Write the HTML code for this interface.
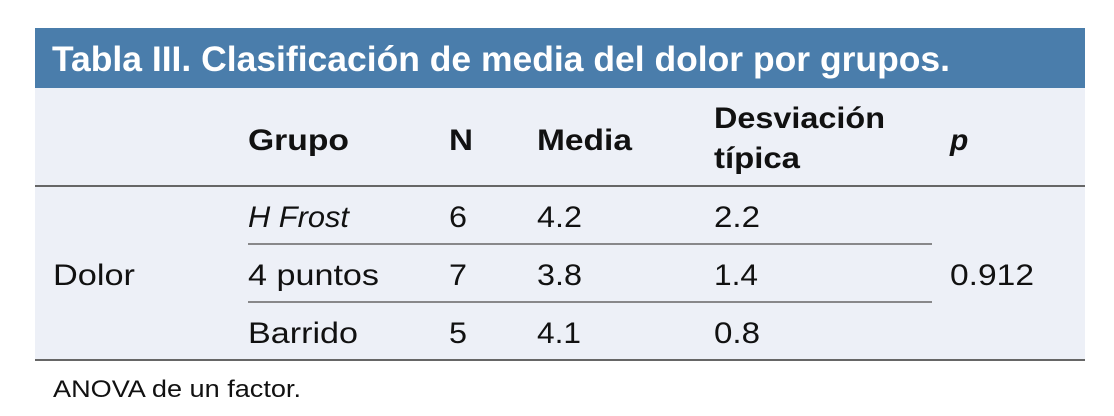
<!DOCTYPE html>
<html><head><meta charset="utf-8"><style>
html,body{margin:0;padding:0;background:#fff;width:1114px;height:416px;overflow:hidden}
svg{display:block}
text{font-family:"Liberation Sans",sans-serif;fill:#111}
</style></head><body>
<svg width="1114" height="416" viewBox="0 0 1114 416">
<rect x="35" y="28" width="1050" height="60" fill="#4a7dab"/>
<rect x="35" y="88" width="1050" height="272" fill="#edf0f7"/>
<text x="52" y="71" font-size="35" font-weight="bold" style="fill:#fff" textLength="898" lengthAdjust="spacingAndGlyphs">Tabla III. Clasificación de media del dolor por grupos.</text>
<g font-size="30" font-weight="bold">
<text x="248" y="150" textLength="101" lengthAdjust="spacingAndGlyphs">Grupo</text>
<text x="449" y="150" textLength="24" lengthAdjust="spacingAndGlyphs">N</text>
<text x="537" y="150" textLength="95" lengthAdjust="spacingAndGlyphs">Media</text>
<text x="714" y="128" textLength="171" lengthAdjust="spacingAndGlyphs">Desviación</text>
<text x="714" y="168" textLength="86" lengthAdjust="spacingAndGlyphs">típica</text>
<text x="950" y="150" font-style="italic">p</text>
</g>
<line x1="35" y1="186" x2="1085" y2="186" stroke="#666" stroke-width="2"/>
<line x1="248" y1="244" x2="932" y2="244" stroke="#666" stroke-width="1.5"/>
<line x1="248" y1="302" x2="932" y2="302" stroke="#666" stroke-width="1.5"/>
<line x1="35" y1="360" x2="1085" y2="360" stroke="#666" stroke-width="2"/>
<g font-size="30">
<text x="248" y="227" font-style="italic" textLength="101" lengthAdjust="spacingAndGlyphs">H Frost</text>
<text x="449" y="227" textLength="18" lengthAdjust="spacingAndGlyphs">6</text><text x="537" y="227" textLength="45" lengthAdjust="spacingAndGlyphs">4.2</text><text x="714" y="227" textLength="46" lengthAdjust="spacingAndGlyphs">2.2</text>
<text x="248" y="285" textLength="131" lengthAdjust="spacingAndGlyphs">4 puntos</text>
<text x="449" y="285" textLength="18" lengthAdjust="spacingAndGlyphs">7</text><text x="537" y="285" textLength="45" lengthAdjust="spacingAndGlyphs">3.8</text><text x="714" y="285" textLength="44" lengthAdjust="spacingAndGlyphs">1.4</text>
<text x="248" y="343" textLength="110" lengthAdjust="spacingAndGlyphs">Barrido</text>
<text x="449" y="343" textLength="18" lengthAdjust="spacingAndGlyphs">5</text><text x="537" y="343" textLength="44" lengthAdjust="spacingAndGlyphs">4.1</text><text x="714" y="343" textLength="46" lengthAdjust="spacingAndGlyphs">0.8</text>
<text x="53" y="285" textLength="82" lengthAdjust="spacingAndGlyphs">Dolor</text>
<text x="950" y="285" textLength="84" lengthAdjust="spacingAndGlyphs">0.912</text>
</g>
<text x="53" y="397" font-size="24" textLength="248" lengthAdjust="spacingAndGlyphs">ANOVA de un factor.</text>
</svg>
</body></html>
